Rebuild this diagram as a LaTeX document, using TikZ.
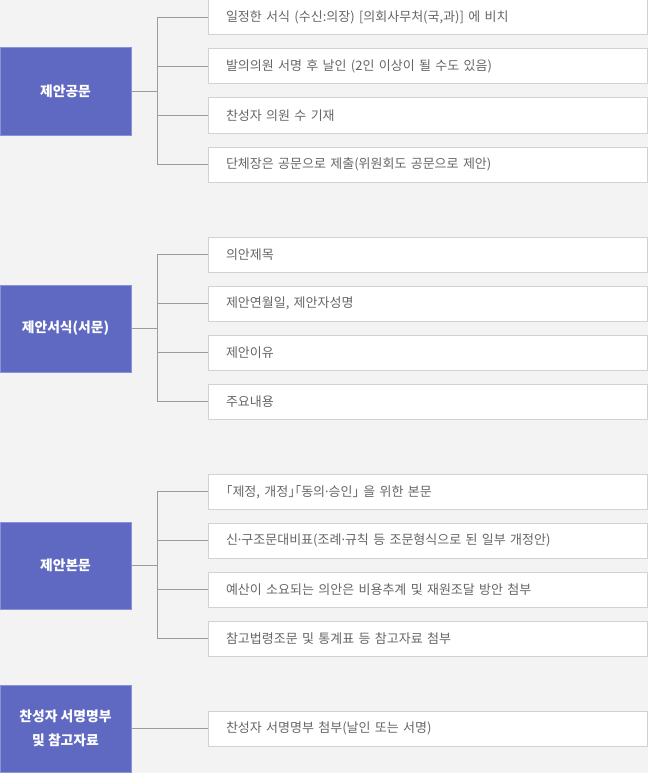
\documentclass[tikz,border=0pt]{standalone}
\usepackage{fontspec}
\setmainfont{Noto Sans CJK KR}
\newfontfamily\latinfont{Noto Sans}
\usepackage{tikz}
\usetikzlibrary{positioning,calc}

\definecolor{pagebg}{HTML}{F3F3F3}
\definecolor{headfill}{HTML}{5F69C2}
\definecolor{headline}{HTML}{8A92DA}
\definecolor{itemline}{HTML}{D2D2D2}
\definecolor{itemtext}{HTML}{666666}
\definecolor{linkgray}{HTML}{9C9C9C}

\newcommand{\mdot}{{\latinfont ·}}

\tikzset{
  head/.style={draw=headline,line width=1pt,fill=headfill,text=white,
    font=\fontsize{13.8}{24}\selectfont\bfseries,align=center,
    minimum width=131pt,minimum height=87pt,inner sep=0pt},
  item/.style={draw=itemline,line width=1pt,fill=white,text=itemtext,
    font=\fontsize{13}{15}\selectfont,align=left,text width=403pt,
    inner xsep=18pt,inner ysep=0pt,minimum height=35pt},
  link/.style={draw=linkgray,line width=1pt}
}

\begin{document}
\begin{tikzpicture}[x=1pt,y=-1pt]
\fill[pagebg] (0,0) rectangle (648,773);
\useasboundingbox (0,0) rectangle (648,773);

% 제안공문
\node[head] (doc) at (65.5,91.5) {제안공문};
\foreach \txt [count=\i] in {{일정한 서식 (수신:의장) [의회사무처(국,과)] 에 비치},
  {발의의원 서명 후 날인 (2인 이상이 될 수도 있음)},
  {찬성자 의원 수 기재},
  {단체장은 공문으로 제출(위원회도 공문으로 제안)}}
  \node[item] (doc\i) at (427.5,{17.5+49*(\i-1)}) {\txt};
\coordinate (docj) at (157,91.5);
\draw[link] (doc) -- (docj);
\foreach \i in {1,...,4} \draw[link] (docj) |- (doc\i);

% 제안서식(서문)
\node[head] (form) at (65.5,328.5) {제안서식(서문)};
\foreach \txt [count=\i] in {{의안제목},{제안연월일, 제안자성명},{제안이유},{주요내용}}
  \node[item] (form\i) at (427.5,{254.8+49*(\i-1)}) {\txt};
\coordinate (formj) at (157,328.5);
\draw[link] (form) -- (formj);
\foreach \i in {1,...,4} \draw[link] (formj) |- (form\i);

% 제안본문
\node[head] (body) at (65.5,565.5) {제안본문};
\foreach \txt [count=\i] in {{｢제정, 개정｣｢동의\mdot 승인｣ 을 위한 본문},
  {신\mdot 구조문대비표(조례\mdot 규칙 등 조문형식으로 된 일부 개정안)},
  {예산이 소요되는 의안은 비용추계 및 재원조달 방안 첨부},
  {참고법령조문 및 통계표 등 참고자료 첨부}}
  \node[item] (body\i) at (427.5,{491.8+49*(\i-1)}) {\txt};
\coordinate (bodyj) at (157,565.5);
\draw[link] (body) -- (bodyj);
\foreach \i in {1,...,4} \draw[link] (bodyj) |- (body\i);

% 찬성자 서명명부
\node[head] (sign) at (65.5,728.8) {찬성자 서명명부\\및 참고자료};
\node[item] (sign1) at (427.5,728.8) {찬성자 서명명부 첨부(날인 또는 서명)};
\draw[link] (sign) -- (sign1);
\end{tikzpicture}
\end{document}
